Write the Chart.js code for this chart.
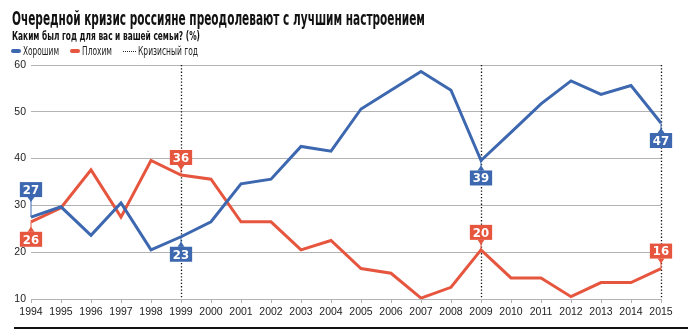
<!DOCTYPE html>
<html>
<head>
<meta charset="utf-8">
<script src="https://cdn.jsdelivr.net/npm/chart.js@4"></script>
<style>
  body { margin: 0; background: #fff; }
  #wrap { position: relative; width: 700px; height: 331px; overflow: hidden; }
  canvas { position: absolute; left: 0; top: 0; }
  .txt { position: absolute; white-space: nowrap; transform-origin: 0 0; color: #111;
         font-family: "Liberation Sans Narrow", "DejaVu Sans Condensed", "Roboto", sans-serif; }
  #title { left: 12px; top: 6px; font-size: 20px; font-weight: bold; }
  #sub { left: 12px; top: 28px; font-size: 12.5px; font-weight: bold; }
  .leg { top: 43px; font-size: 12.5px; color: #222; }
  .sw { position: absolute; top: 49px; width: 10px; height: 4px; border-radius: 2px; }
  .dots { position: absolute; top: 51px; width: 13px; border-top: 1px dotted #222; }
</style>
</head>
<body>
<div id="wrap">
  <canvas id="chart" width="700" height="331"></canvas>
  <div class="txt" id="title" data-w="413">Очередной кризис россияне преодолевают с лучшим настроением</div>
  <div class="txt" id="sub" data-w="188">Каким был год для вас и вашей семьи? (%)</div>
  <div class="sw" style="left:11px;background:#3d68b0"></div>
  <div class="txt leg" style="left:23px" data-w="36">Хорошим</div>
  <div class="sw" style="left:70px;background:#e6553e"></div>
  <div class="txt leg" style="left:82px" data-w="30">Плохим</div>
  <div class="dots" style="left:123px"></div>
  <div class="txt leg" style="left:138px" data-w="60">Кризисный год</div>
</div>
<script>
const years = ['1994', '1995', '1996', '1997', '1998', '1999', '2000', '2001', '2002', '2003', '2004',
  '2005', '2006', '2007', '2008', '2009', '2010', '2011', '2012', '2013', '2014', '2015'];
const good = [27.5, 29.7, 23.6, 30.5, 20.5, 23.3, 26.5, 34.6, 35.6, 42.6, 41.6,
  50.6, 54.6, 58.6, 54.6, 39.6, 45.6, 51.7, 56.6, 53.7, 55.6, 47.6];
const bad = [26.5, 29.5, 37.6, 27.5, 39.6, 36.5, 35.6, 26.5, 26.5, 20.5, 22.5,
  16.5, 15.5, 10.2, 12.5, 20.5, 14.5, 14.5, 10.5, 13.5, 13.5, 16.5];
const crisisYears = ['1999', '2009', '2015'];
const yTicks = [10, 20, 30, 40, 50, 60];

// callouts: [year, text, direction]
const goodCallouts = [['1994', '27', 'up'], ['1999', '23', 'down'], ['2009', '39', 'down'], ['2015', '47', 'down']];
const badCallouts = [['1994', '26', 'down'], ['1999', '36', 'up'], ['2009', '20', 'up'], ['2015', '16', 'up']];

const BLUE = '#3d68b0';
const RED = '#e6553e';

// squeeze the condensed header text into the widths of the original
document.querySelectorAll('.txt[data-w]').forEach(function(el) {
  const w = el.getBoundingClientRect().width;
  el.style.transform = 'scaleX(' + (el.dataset.w / w) + ')';
});

const crisisPlugin = {
  id: 'crisis',
  beforeDatasetsDraw(chart) {
    const ctx = chart.ctx, area = chart.chartArea, x = chart.scales.x;
    ctx.save();
    ctx.strokeStyle = '#111';
    ctx.lineWidth = 1.3;
    ctx.setLineDash([1.3, 2]);
    crisisYears.forEach(function(y) {
      const px = Math.round(x.getPixelForValue(years.indexOf(y))) + 0.5;
      ctx.beginPath();
      ctx.moveTo(px, area.top);
      ctx.lineTo(px, area.bottom);
      ctx.stroke();
    });
    ctx.restore();
  },
  afterDraw(chart) {
    const ctx = chart.ctx;
    ctx.save();
    ctx.fillStyle = '#111';
    ctx.fillRect(14, 327, 674, 2);
    ctx.restore();
  }
};

const calloutPlugin = {
  id: 'callouts',
  afterDatasetsDraw(chart) {
    const ctx = chart.ctx;
    const sets = [[goodCallouts, 0, BLUE], [badCallouts, 1, RED]];
    ctx.save();
    ctx.font = 'bold 13px "Liberation Sans Narrow", "DejaVu Sans Condensed", sans-serif';
    ctx.textAlign = 'center';
    ctx.textBaseline = 'middle';
    sets.forEach(function(s) {
      const meta = chart.getDatasetMeta(s[1]);
      s[0].forEach(function(c) {
        const pt = meta.data[years.indexOf(c[0])];
        const up = c[2] === 'up';
        const gap = (c[0] === '1994' && up) ? 20 : 10;
        const h = 15;
        const w = ctx.measureText(c[1]).width + 6;
        const edge = up ? pt.y - gap : pt.y + gap;
        const top = up ? edge - h : edge;
        ctx.fillStyle = s[2];
        ctx.strokeStyle = s[2];
        ctx.lineWidth = 1;
        ctx.beginPath();
        ctx.moveTo(pt.x, pt.y);
        ctx.lineTo(pt.x, edge);
        ctx.stroke();
        ctx.beginPath();
        ctx.moveTo(pt.x - 3.5, edge);
        ctx.lineTo(pt.x + 3.5, edge);
        ctx.lineTo(pt.x, up ? edge + 5 : edge - 5);
        ctx.closePath();
        ctx.fill();
        ctx.fillRect(pt.x - w / 2, top, w, h);
        ctx.fillStyle = '#fff';
        ctx.fillText(c[1], pt.x, top + h / 2 + 1);
      });
    });
    ctx.restore();
  }
};

new Chart(document.getElementById('chart'), {
  type: 'line',
  data: {
    labels: years,
    datasets: [{
      label: 'Хорошим',
      data: good,
      borderColor: BLUE,
      borderWidth: 3,
      pointRadius: 0,
      tension: 0
    }, {
      label: 'Плохим',
      data: bad,
      borderColor: RED,
      borderWidth: 3,
      pointRadius: 0,
      tension: 0
    }]
  },
  options: {
    responsive: false,
    animation: false,
    devicePixelRatio: 1,
    layout: { padding: { top: 65, right: 39, left: 0, bottom: 0 } },
    plugins: {
      legend: { display: false },
      title: { display: false },
      tooltip: { enabled: false }
    },
    scales: {
      x: {
        offset: false,
        afterFit: function(scale) { scale.height = 32; },
        grid: { display: true, drawOnChartArea: false, color: '#b3b3b3', tickLength: 4 },
        border: { color: '#b3b3b3', width: 1 },
        ticks: {
          color: '#222', maxRotation: 0, autoSkip: false, padding: 3,
          font: { family: 'Liberation Sans, Arial, sans-serif', size: 10.5 }
        }
      },
      y: {
        min: 10,
        max: 60,
        afterFit: function(scale) { scale.width = 31; },
        afterBuildTicks: function(scale) { scale.ticks = yTicks.map(function(v) { return { value: v }; }); },
        grid: { color: '#b3b3b3', drawTicks: false },
        border: { display: false },
        ticks: {
          color: '#222', padding: 5,
          font: { family: 'Liberation Sans, Arial, sans-serif', size: 10.5 }
        }
      }
    }
  },
  plugins: [crisisPlugin, calloutPlugin]
});
</script>
</body>
</html>
